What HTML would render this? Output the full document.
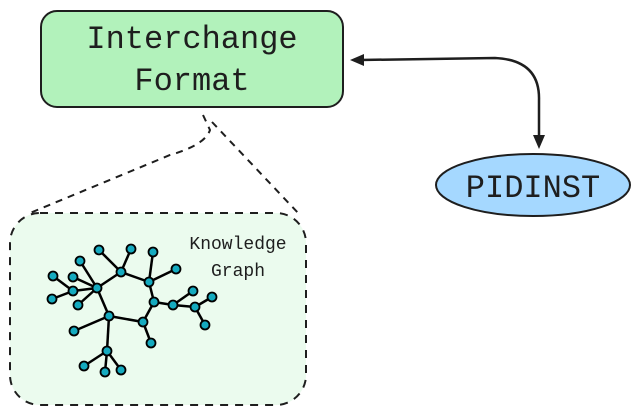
<!DOCTYPE html>
<html><head><style>html,body{margin:0;padding:0;background:#fff;}svg{display:block}</style></head>
<body>
<svg width="639" height="413" viewBox="0 0 639 413" xmlns="http://www.w3.org/2000/svg">
<rect x="41" y="11" width="302" height="96" rx="16" fill="#b2f2bb" stroke="#1e1e1e" stroke-width="2"/>
<text x="192" y="48" font-family="Liberation Mono, monospace" font-size="32" text-anchor="middle" fill="#1e1e1e">Interchange</text>
<text x="192" y="90" font-family="Liberation Mono, monospace" font-size="32" text-anchor="middle" fill="#1e1e1e">Format</text>
<path d="M360 60 L495 58 Q540 60 539 100 L539 138" fill="none" stroke="#1e1e1e" stroke-width="2.5"/>
<polygon points="350,60 364,54 364,66" fill="#1e1e1e"/>
<polygon points="539,149 533,135 545,135" fill="#1e1e1e"/>
<ellipse cx="533" cy="185" rx="97" ry="31" fill="#a5d8ff" stroke="#1e1e1e" stroke-width="2"/>
<text x="533" y="197" font-family="Liberation Mono, monospace" font-size="32" text-anchor="middle" fill="#1e1e1e">PIDINST</text>
<path d="M203 115 L210 130 Q205 145 170 155 L30 213 M212 122 L300 215" fill="none" stroke="#1e1e1e" stroke-width="2" stroke-dasharray="7 6"/>
<rect x="10" y="213" width="296" height="192" rx="30" fill="#ebfbee" stroke="#1e1e1e" stroke-width="2" stroke-dasharray="8 7"/>
<text x="238" y="249" font-family="Liberation Mono, monospace" font-size="18" text-anchor="middle" fill="#1e1e1e">Knowledge</text>
<text x="238" y="276" font-family="Liberation Mono, monospace" font-size="18" text-anchor="middle" fill="#1e1e1e">Graph</text>
<g stroke="#000" stroke-width="2.5">
<line x1="97" y1="288" x2="121" y2="272"/><line x1="121" y1="272" x2="149" y2="282"/><line x1="149" y1="282" x2="154" y2="302"/><line x1="154" y1="302" x2="143" y2="322"/><line x1="143" y1="322" x2="109" y2="316"/><line x1="109" y1="316" x2="97" y2="288"/>
<line x1="97" y1="288" x2="80" y2="261"/><line x1="97" y1="288" x2="73" y2="277"/><line x1="97" y1="288" x2="73" y2="291"/><line x1="97" y1="288" x2="78" y2="305"/>
<line x1="73" y1="291" x2="53" y2="276"/><line x1="73" y1="291" x2="52" y2="299"/>
<line x1="121" y1="272" x2="99" y2="250"/><line x1="121" y1="272" x2="131" y2="249"/>
<line x1="149" y1="282" x2="153" y2="252"/><line x1="149" y1="282" x2="176" y2="269"/>
<line x1="154" y1="302" x2="173" y2="305"/><line x1="173" y1="305" x2="193" y2="291"/><line x1="173" y1="305" x2="195" y2="307"/><line x1="195" y1="307" x2="212" y2="297"/><line x1="195" y1="307" x2="205" y2="325"/>
<line x1="143" y1="322" x2="151" y2="343"/>
<line x1="109" y1="316" x2="74" y2="331"/><line x1="109" y1="316" x2="107" y2="351"/><line x1="107" y1="351" x2="84" y2="366"/><line x1="107" y1="351" x2="105" y2="372"/><line x1="107" y1="351" x2="121" y2="370"/>
</g>
<g fill="#15aabf" stroke="#000" stroke-width="1.8">
<circle cx="97" cy="288" r="4.5"/><circle cx="121" cy="272" r="4.5"/><circle cx="149" cy="282" r="4.5"/><circle cx="154" cy="302" r="4.5"/><circle cx="143" cy="322" r="4.5"/><circle cx="109" cy="316" r="4.5"/>
<circle cx="80" cy="261" r="4.5"/><circle cx="73" cy="277" r="4.5"/><circle cx="73" cy="291" r="4.5"/><circle cx="78" cy="305" r="4.5"/><circle cx="53" cy="276" r="4.5"/><circle cx="52" cy="299" r="4.5"/>
<circle cx="99" cy="250" r="4.5"/><circle cx="131" cy="249" r="4.5"/><circle cx="153" cy="252" r="4.5"/><circle cx="176" cy="269" r="4.5"/>
<circle cx="173" cy="305" r="4.5"/><circle cx="193" cy="291" r="4.5"/><circle cx="195" cy="307" r="4.5"/><circle cx="212" cy="297" r="4.5"/><circle cx="205" cy="325" r="4.5"/>
<circle cx="151" cy="343" r="4.5"/><circle cx="74" cy="331" r="4.5"/><circle cx="107" cy="351" r="4.5"/><circle cx="84" cy="366" r="4.5"/><circle cx="105" cy="372" r="4.5"/><circle cx="121" cy="370" r="4.5"/>
</g>
</svg>
</body></html>
